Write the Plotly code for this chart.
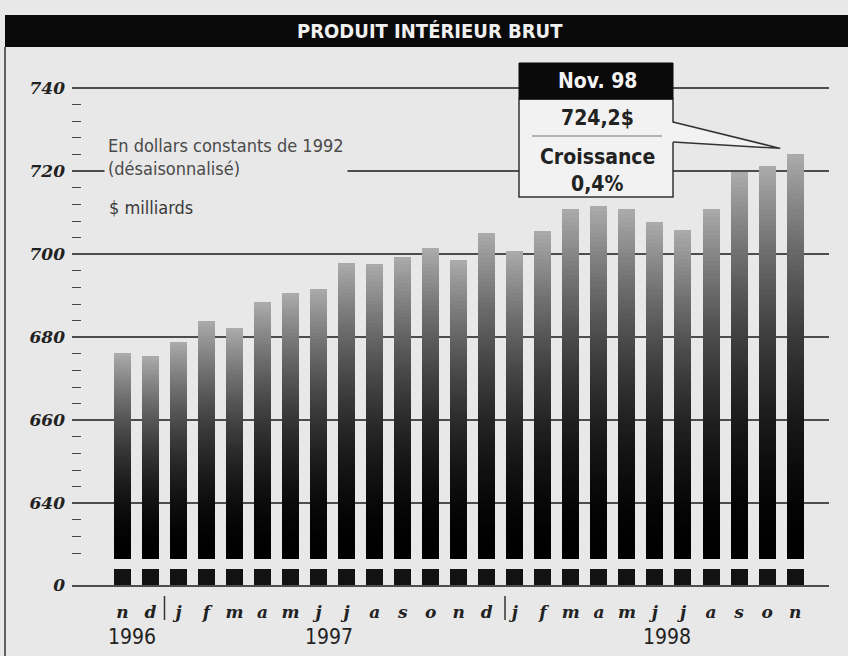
import plotly.graph_objects as go

# ---------------- data ----------------
months = ["n", "d", "j", "f", "m", "a", "m", "j", "j", "a", "s", "o", "n",
          "d", "j", "f", "m", "a", "m", "j", "j", "a", "s", "o", "n"]
values = [676.2, 675.5, 678.9, 683.9, 682.2, 688.4, 690.7, 691.7, 697.8, 697.7,
          699.4, 701.5, 698.6, 705.1, 700.8, 705.7, 710.9, 711.5, 710.8, 707.8,
          705.8, 711.0, 719.8, 721.3, 724.2]
years = ["1996", "1997", "1998"]
year_pos = [0.34, 7.37, 19.43]
year_breaks = [1.5, 13.65]
y_ticks = [640, 660, 680, 700, 720, 740]
y_minor = [628, 632, 636, 644, 648, 652, 656, 664, 668, 672, 676, 684, 688, 692, 696,
           704, 708, 712, 716, 724, 728, 732, 736]
title = "PRODUIT INTÉRIEUR BRUT"
note_lines = ["En dollars constants de 1992", "(désaisonnalisé)"]
note_unit = "$ milliards"
call_head = "Nov. 98"
call_value = "724,2$"
call_growth = ["Croissance", "0,4%"]

# ---------------- layout constants ----------------
W, H = 848, 656
L, R, T, B = 72, 19, 62, 71
PW, PH = W - L - R, H - T - B
XR = [-1.80, 25.21]
YR = [626.6, 746.3]
YR2 = [0, 4]
d_top0 = 26 / PH
d_bot1 = 16 / PH

PAPER = "#e8e8e8"
GRID = "#4d4d4d"
NARROW = "Liberation Sans Narrow, Arial Narrow, DejaVu Sans Condensed, sans-serif"
SERIF = "DejaVu Serif, Liberation Serif, serif"


def px_x(px):
    return (px - L) / PW


def px_y(py):
    return (H - B - py) / PH


def data_to_paper_x(x):
    return (x - XR[0]) / (XR[1] - XR[0])


def data_to_paper_y(v):
    return d_top0 + (v - YR[0]) / (YR[1] - YR[0]) * (1 - d_top0)


xs = list(range(len(values)))
BW = 0.607

fig = go.Figure()

# gradient bars: stacked segments from the visible bottom to each top
N = 80
lo = YR[0]
for k in range(N):
    f = (k + 0.5) / N
    g = int(round(172 * f ** 1.8))
    col = f"rgb({g},{g},{g})"
    bases, heights = [], []
    for v in values:
        step = (v - lo) / N
        b0 = lo + k * step
        if k == 0:
            bases.append(0)
            heights.append(b0 + step)
        else:
            bases.append(b0)
            heights.append(step * 1.05 if k < N - 1 else step)
    fig.add_trace(go.Bar(x=xs, y=heights, base=bases, width=BW,
                         marker=dict(color=col, line=dict(width=0)),
                         xaxis="x", yaxis="y", showlegend=False, hoverinfo="skip"))

# bottom (broken-axis) stubs
fig.add_trace(go.Bar(x=xs, y=values, width=BW, marker=dict(color="#121212", line=dict(width=0)),
                     xaxis="x2", yaxis="y2", showlegend=False, hoverinfo="skip"))

shapes = []
annotations = []


def txt(text, x, y, size, color, family=NARROW, xanchor="center", **kw):
    d = dict(text=text, xref="paper", yref="paper", x=x, y=y, showarrow=False,
             xanchor=xanchor, yanchor="middle",
             font=dict(family=family, size=size, color=color))
    d.update(kw)
    annotations.append(d)


# title bar and frame
shapes.append(dict(type="rect", xref="paper", yref="paper",
                   x0=px_x(5), x1=px_x(849), y0=px_y(47), y1=px_y(15),
                   fillcolor="#0a0a0a", line=dict(width=0), layer="above"))
shapes.append(dict(type="line", xref="paper", yref="paper",
                   x0=px_x(5), x1=px_x(5), y0=px_y(47), y1=px_y(657),
                   line=dict(color="#333333", width=1.5)))
txt(f"<b>{title}</b>", px_x(430), px_y(31), 20, "#f0f0f0")

# note text
txt("<br>".join(note_lines), px_x(104), px_y(157), 18, "#4a4a4a",
    xanchor="left", align="left", bgcolor=PAPER, borderpad=3)
txt(note_unit, px_x(107), px_y(207), 18, "#3a3a3a", xanchor="left")

# callout
bx0, bx1 = px_x(519), px_x(673)
tip_x = data_to_paper_x(xs[-1] - 0.53)
tip_y = data_to_paper_y(values[-1] + 1.3)
shapes.append(dict(type="rect", xref="paper", yref="paper",
                   x0=bx0, x1=bx1, y0=px_y(197), y1=px_y(99),
                   fillcolor="#f2f2f2", line=dict(color="#333333", width=1.5), layer="above"))
shapes.append(dict(type="path", xref="paper", yref="paper",
                   path=f"M {px_x(670)} {px_y(122)} L {tip_x} {tip_y} L {px_x(670)} {px_y(142)} Z",
                   fillcolor="#f2f2f2", line=dict(width=0), layer="above"))
shapes.append(dict(type="path", xref="paper", yref="paper",
                   path=f"M {bx1} {px_y(122)} L {tip_x} {tip_y} L {bx1} {px_y(142)}",
                   line=dict(color="#333333", width=1.5), layer="above"))
shapes.append(dict(type="rect", xref="paper", yref="paper",
                   x0=bx0, x1=bx1, y0=px_y(99), y1=px_y(63),
                   fillcolor="#0a0a0a", line=dict(color="#0a0a0a", width=1), layer="above"))
shapes.append(dict(type="line", xref="paper", yref="paper",
                   x0=px_x(532), x1=px_x(662), y0=px_y(136), y1=px_y(136),
                   line=dict(color="#777777", width=1), layer="above"))
txt(f"<b>{call_head}</b>", px_x(597), px_y(81), 21, "#f4f4f4")
txt(f"<b>{call_value}</b>", px_x(597), px_y(118), 21, "#222222")
txt(f"<b>{call_growth[0]}</b>", px_x(597), px_y(157), 21, "#222222")
txt(f"<b>{call_growth[1]}</b>", px_x(597), px_y(184), 21, "#222222")

# year separators and labels
for xb in year_breaks:
    shapes.append(dict(type="line", xref="x2", yref="paper", x0=xb, x1=xb,
                       y0=px_y(620), y1=px_y(596),
                       line=dict(color="#333333", width=1.5)))
for yl, xp in zip(years, year_pos):
    annotations.append(dict(text=yl, xref="x2", yref="paper", x=xp, y=px_y(637),
                            xanchor="center", yanchor="middle", showarrow=False,
                            font=dict(family=NARROW, size=21, color="#222222")))

fig.update_layout(
    width=W, height=H,
    margin=dict(l=L, r=R, t=T, b=B),
    paper_bgcolor=PAPER, plot_bgcolor=PAPER,
    barmode="overlay", bargap=0,
    showlegend=False,
    shapes=shapes, annotations=annotations,
    xaxis=dict(domain=[0, 1], range=XR, anchor="y", visible=False, fixedrange=True),
    yaxis=dict(domain=[d_top0, 1], range=YR, anchor="x",
               tickmode="array", tickvals=y_ticks, ticktext=[str(t) for t in y_ticks],
               showgrid=True, gridcolor=GRID, gridwidth=1.5,
               zeroline=False, showline=False, ticks="",
               ticklabelstandoff=6,
               tickfont=dict(family=SERIF, size=17, color="#222222", weight="bold", style="italic"),
               minor=dict(tickmode="array", tickvals=y_minor, ticks="inside",
                          ticklen=9, tickwidth=1.3, tickcolor="#444444", showgrid=False)),
    xaxis2=dict(domain=[0, 1], range=XR, anchor="y2",
                tickmode="array", tickvals=xs, ticktext=months,
                showline=True, linecolor=GRID, linewidth=1.5,
                showgrid=False, zeroline=False, ticks="",
                ticklabelstandoff=11,
                tickfont=dict(family=SERIF, size=17, color="#222222", weight="bold", style="italic")),
    yaxis2=dict(domain=[0, d_bot1], range=YR2, anchor="x2",
                tickmode="array", tickvals=[0], ticktext=["0"],
                showgrid=False, zeroline=False, showline=False, ticks="",
                ticklabelstandoff=6,
                tickfont=dict(family=SERIF, size=17, color="#222222", weight="bold", style="italic")),
)

fig.write_html("out.html",
               config={"displayModeBar": False},
               post_script=f"document.body.style.margin='0';document.body.style.background='{PAPER}';")
